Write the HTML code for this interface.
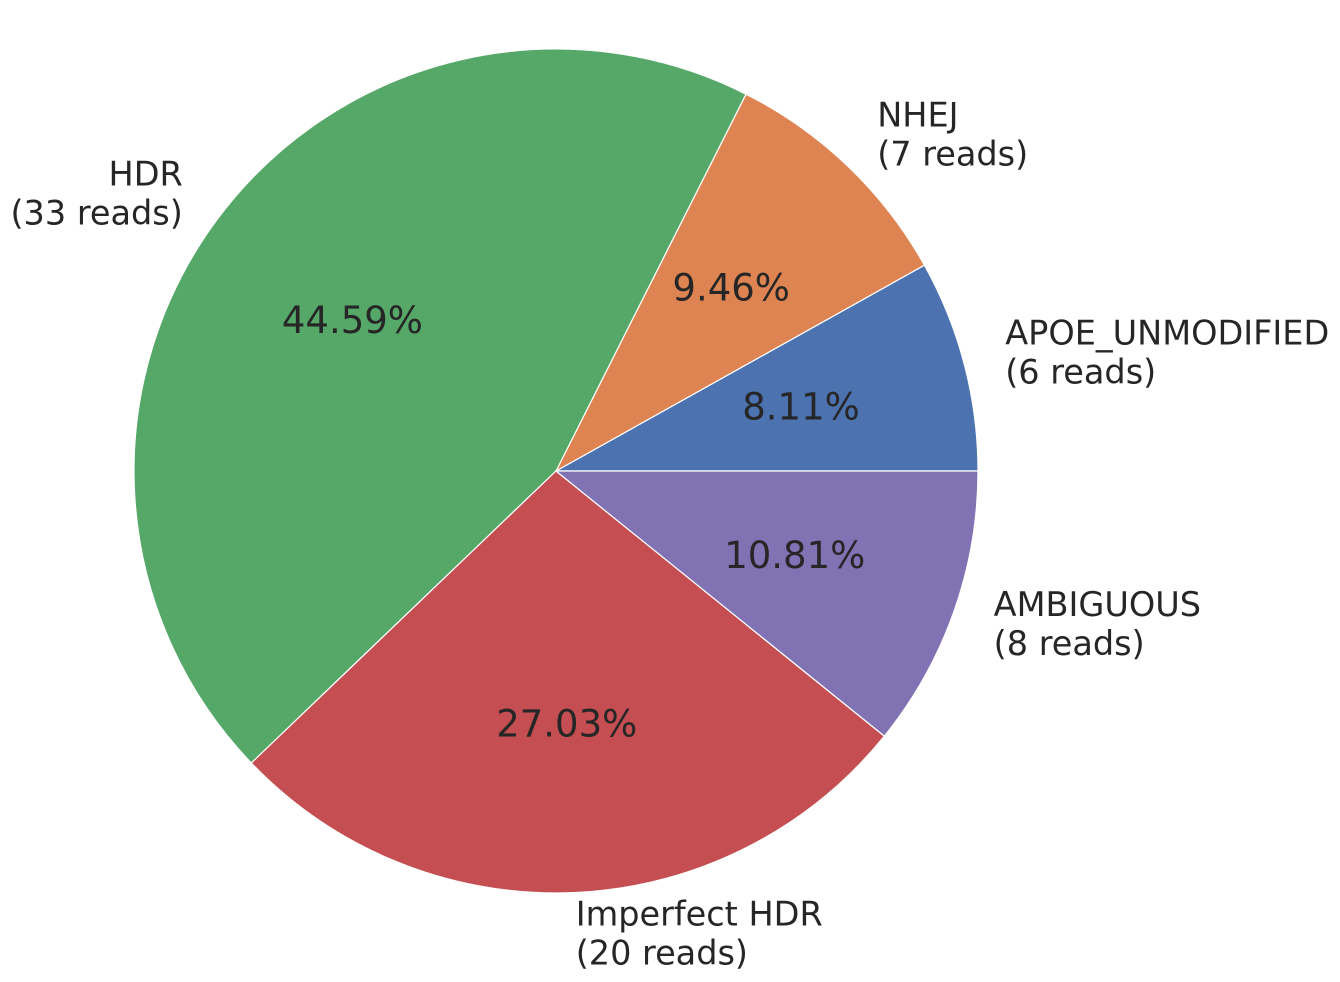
<!DOCTYPE html>
<html><head><meta charset="utf-8"><style>
html,body{margin:0;padding:0;background:#fff;}
svg{display:block;font-family:"DejaVu Sans","Liberation Sans",sans-serif;}
</style></head><body>
<svg id="chart" width="1340" height="982" viewBox="0 0 1340 982" xmlns="http://www.w3.org/2000/svg"></svg>
<script>
const categories = ["APOE_UNMODIFIED","NHEJ","HDR","Imperfect HDR","AMBIGUOUS"];
const values = [6,7,33,20,8];
const colors = ["#4c72b0","#dd8452","#55a868","#c44e52","#8172b3"];
const cx=556, cy=471, r=422;
const svg=document.getElementById('chart');
const NS="http://www.w3.org/2000/svg";
const total=values.reduce((a,b)=>a+b,0);
let ang=0;
function pt(a,rr){return [cx+rr*Math.cos(a), cy-rr*Math.sin(a)];}
values.forEach((v,i)=>{
  const a0=ang, a1=ang+v/total*2*Math.PI; ang=a1;
  const p0=pt(a0,r), p1=pt(a1,r);
  const large=(a1-a0)>Math.PI?1:0;
  const path=document.createElementNS(NS,'path');
  path.setAttribute('d',`M${cx},${cy} L${p0[0]},${p0[1]} A${r},${r} 0 ${large} 0 ${p1[0]},${p1[1]} Z`);
  path.setAttribute('fill',colors[i]);
  path.setAttribute('stroke','#fff');
  path.setAttribute('stroke-width','1.2');
  
  
  svg.appendChild(path);
  const mid=(a0+a1)/2;
  const pp=pt(mid,0.6*r);
  const pct=document.createElementNS(NS,'text');
  pct.setAttribute('x',pp[0]); pct.setAttribute('y',pp[1]);
  pct.setAttribute('text-anchor','middle'); pct.setAttribute('dominant-baseline','central');
  pct.setAttribute('font-size','37'); pct.setAttribute('fill','#262626');
  pct.textContent=(v/total*100).toFixed(2)+'%';
  
  
  svg.appendChild(pct);
  const lp=pt(mid,1.1*r);
  const right=Math.cos(mid)>=0;
  const lab=document.createElementNS(NS,'text');
  lab.setAttribute('font-size','33.5'); lab.setAttribute('fill','#262626');
  lab.setAttribute('text-anchor',right?'start':'end');
  
  
  const lines=[categories[i],'('+v+' reads)'];
  lines.forEach((t,k)=>{
    const ts=document.createElementNS(NS,'tspan');
    ts.setAttribute('x',lp[0]);
    ts.setAttribute('y',lp[1]+(k-0.5)*39+10);
    ts.textContent=t;
    lab.appendChild(ts);
  });
  svg.appendChild(lab);
});
</script>
</body></html>
